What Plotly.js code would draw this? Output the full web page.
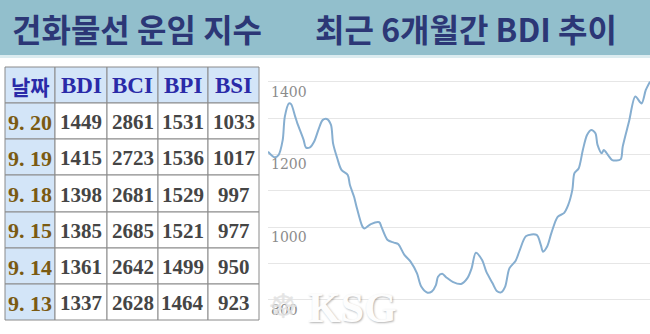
<!DOCTYPE html>
<html>
<head>
<meta charset="utf-8">
<script src="https://cdn.plot.ly/plotly-3.0.1.min.js"></script>
<style>
html,body{margin:0;padding:0;background:#fff;}
#chart{width:650px;height:334px;}
</style>
</head>
<body>
<div id="chart"></div>
<script>
// ---- Table data ----
const tableHeader = ['날짜', 'BDI', 'BCI', 'BPI', 'BSI'];
const dates = ['9. 20', '9. 19', '9. 18', '9. 15', '9. 14', '9. 13'];
const bdi = [1449, 1415, 1398, 1385, 1361, 1337];
const bci = [2861, 2723, 2681, 2685, 2642, 2628];
const bpi = [1531, 1536, 1529, 1521, 1499, 1464];
const bsi = [1033, 1017, 997, 977, 950, 923];

// ---- BDI 6-month trend ----
const trendDates = ['2017-03-20','2017-03-23','2017-03-25','2017-03-27','2017-03-28','2017-03-30','2017-03-31',
  '2017-04-02','2017-04-03','2017-04-06','2017-04-07','2017-04-09','2017-04-11','2017-04-13','2017-04-15',
  '2017-04-17','2017-04-19','2017-04-20','2017-04-22','2017-04-24','2017-04-27','2017-04-28','2017-04-30',
  '2017-05-01','2017-05-04','2017-05-05','2017-05-08','2017-05-12','2017-05-13','2017-05-16','2017-05-19',
  '2017-05-21','2017-05-24','2017-05-27','2017-05-30','2017-06-01','2017-06-04','2017-06-06','2017-06-08',
  '2017-06-09','2017-06-11','2017-06-13','2017-06-16','2017-06-20','2017-06-23','2017-06-25','2017-06-27',
  '2017-06-30','2017-07-02','2017-07-05','2017-07-07','2017-07-09','2017-07-11','2017-07-13','2017-07-16',
  '2017-07-18','2017-07-21','2017-07-26','2017-07-28','2017-07-29','2017-07-31','2017-08-02','2017-08-05',
  '2017-08-08','2017-08-10','2017-08-12','2017-08-13','2017-08-15','2017-08-17','2017-08-19','2017-08-21',
  '2017-08-23','2017-08-24','2017-08-26','2017-08-27','2017-08-29','2017-08-31','2017-09-04','2017-09-05',
  '2017-09-08','2017-09-11','2017-09-14','2017-09-16','2017-09-18'];
const trendValues = [1208,1193,1199,1240,1304,1341,1339,
  1304,1286,1240,1220,1220,1236,1268,1295,
  1298,1282,1231,1190,1158,1144,1117,1084,
  1061,1002,997,1009,1014,1002,965,958,
  954,924,905,873,837,820,823,841,
  864,872,862,850,844,860,887,930,
  910,878,846,825,821,837,887,908,
  938,976,979,951,933,947,984,1029,
  1039,1061,1103,1149,1162,1213,1254,1268,
  1259,1227,1204,1213,1199,1185,1187,1222,
  1291,1360,1341,1378,1401];

const yTickVals = [800, 900, 1000, 1100, 1200, 1300, 1400];
const yTickText = ['800', '', '1000', '', '1200', '', '1400'];

const mainTitle = '건화물선 운임 지수';
const subTitle = '최근 6개월간 BDI 추이';
const watermark = 'KSG';

const W = 650, H = 334;
const px = v => v / W;
const py = v => 1 - v / H;
const nb = s => String(s).replace(/ /g, '\u00a0');

// ---- table geometry (pixels) ----
const colEdges = [5, 55, 107, 158, 208, 259];
const rowEdges = [67, 103, 139, 175, 212, 248, 284, 320];
const lightBlue = '#d3e5f8';
const gridGray = '#8a8a8a';

const shapes = [
  {type: 'rect', xref: 'paper', yref: 'paper', x0: 0, x1: 1, y0: py(55), y1: 1,
   fillcolor: '#92bfcc', line: {width: 0}, layer: 'below'},
  {type: 'rect', xref: 'paper', yref: 'paper', x0: 0, x1: 1, y0: py(58), y1: py(55),
   fillcolor: '#dcecf0', line: {width: 0}, layer: 'below'}
];
const annotations = [
  {text: '<b>' + mainTitle + '</b>', xref: 'paper', yref: 'paper', x: px(10), y: py(28),
   xanchor: 'left', yanchor: 'middle', showarrow: false,
   font: {family: 'Noto Sans CJK KR', size: 32, color: '#2c3776'}},
  {text: '<b>' + subTitle + '</b>', xref: 'paper', yref: 'paper', x: px(313), y: py(28),
   xanchor: 'left', yanchor: 'middle', showarrow: false,
   font: {family: 'Noto Sans CJK KR', size: 32, color: '#2c3776'}}
];

const columns = [dates, bdi, bci, bpi, bsi];
const nRows = dates.length + 1;
for (let r = 0; r < nRows; r++) {
  for (let c = 0; c < 5; c++) {
    const x0 = colEdges[c], x1 = colEdges[c + 1];
    const y0 = rowEdges[r], y1 = rowEdges[r + 1];
    const isHead = r === 0;
    const fill = (isHead || c === 0) ? lightBlue : '#ffffff';
    shapes.push({type: 'rect', xref: 'paper', yref: 'paper',
      x0: px(x0), x1: px(x1), y0: py(y1), y1: py(y0),
      fillcolor: fill, line: {color: gridGray, width: 1}, layer: 'above'});
    let text, font;
    if (isHead) {
      text = tableHeader[c];
      font = {family: c === 0 ? 'Noto Sans CJK KR' : 'Liberation Serif',
              size: c === 0 ? 21 : 23, color: '#2a2aa8'};
    } else if (c === 0) {
      text = columns[c][r - 1];
      font = {family: 'Liberation Serif', size: 22, color: '#7a5a12'};
    } else {
      text = columns[c][r - 1];
      font = {family: 'Liberation Serif', size: 21, color: '#454545'};
    }
    annotations.push({text: '<b>' + nb(text) + '</b>', xref: 'paper', yref: 'paper',
      x: px((x0 + x1) / 2), y: py((y0 + y1) / 2 + 1), xanchor: 'center', yanchor: 'middle',
      showarrow: false, font: font});
  }
}

annotations.push(
  {text: '☸', xref: 'paper', yref: 'paper', x: px(283), y: py(306),
   xanchor: 'center', yanchor: 'middle', showarrow: false,
   font: {family: 'DejaVu Sans', size: 34, color: 'rgba(225,225,225,0.85)'}},
  {text: '<b>' + watermark + '</b>', xref: 'paper', yref: 'paper', x: px(352), y: py(308),
   xanchor: 'center', yanchor: 'middle', showarrow: false,
   font: {family: 'Liberation Serif', size: 42, color: '#fdfdfd', shadow: '1px 1px 2px rgba(0,0,0,0.3)'}}
);

const lineTrace = {
  type: 'scatter',
  mode: 'lines',
  x: trendDates,
  y: trendValues,
  line: {color: '#86aed0', width: 2, shape: 'spline', smoothing: 0.8},
  hoverinfo: 'skip'
};

const layout = {
  width: W,
  height: H,
  margin: {l: 0, r: 0, t: 0, b: 0},
  paper_bgcolor: '#ffffff',
  plot_bgcolor: '#ffffff',
  showlegend: false,
  xaxis: {
    domain: [px(268), 1],
    range: ['2017-03-20', '2017-09-18'],
    visible: false,
    fixedrange: true
  },
  yaxis: {
    domain: [0, py(60)],
    range: [706.4, 1460.5],
    tickvals: yTickVals,
    ticktext: yTickText,
    showgrid: true,
    gridcolor: '#e6e6e6',
    gridwidth: 1,
    zeroline: false,
    showline: false,
    ticks: '',
    ticklabelposition: 'inside bottom',
    tickfont: {family: 'DejaVu Serif', size: 14, color: '#8c8c8c'},
    fixedrange: true
  },
  shapes: shapes,
  annotations: annotations
};

Plotly.newPlot('chart', [lineTrace], layout, {displayModeBar: false, staticPlot: true});
</script>
</body>
</html>
